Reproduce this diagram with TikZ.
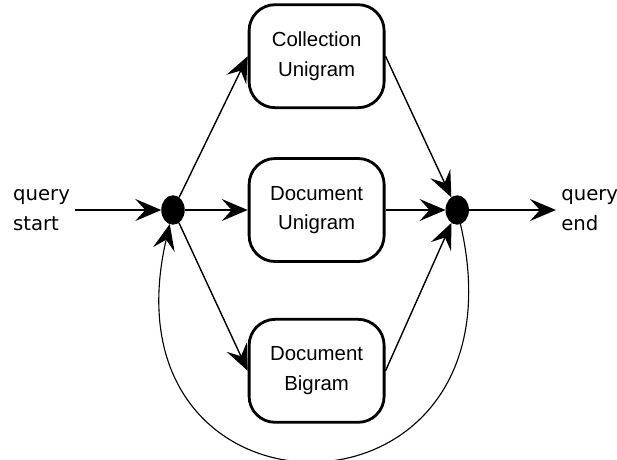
\documentclass[tikz,border=0pt]{standalone}
\usepackage{fontspec}
\setmainfont{Liberation Sans}
\newfontfamily\labelfont{DejaVu Sans}
\usetikzlibrary{arrows.meta,positioning,shapes.geometric}

\begin{document}
\begin{tikzpicture}[->,>={Stealth[length=6.5mm,width=5.5mm,inset=2.5mm]},line width=1pt,
  node distance=1.2cm and 1.575cm,
  model node/.style={rectangle,rounded corners=6.5mm,draw,line width=2pt,
  minimum width=3.375cm,minimum height=2.575cm,align=center,
  font=\fontsize{14.5}{21}\selectfont},
  join node/.style={ellipse,fill=black,draw,inner sep=0pt,
  minimum width=5.5mm,minimum height=7mm},
  query node/.style={align=left,font=\labelfont\fontsize{14}{21}\selectfont}]

  \useasboundingbox (0,0) rectangle (15.425,11.475);

  \node[join node] (split) at (4.325,6.225) {};
  \node[model node] (docuni) [right=of split] {Document\\Unigram};
  \node[model node] (colluni) [above=of docuni] {Collection\\Unigram};
  \node[model node] (docbi) [below=1.375cm of docuni] {Document\\Bigram};
  \node[join node] (merge) [right=1.5cm of docuni] {};

  \node[query node] (qstart) [left=2.15cm of split] {query\\start};
  \node[query node] (qend) [right=2.175cm of merge] {query\\end};

%into the split point
  \draw (qstart) -- (split);

%split point to the models
  \draw (split) -- (colluni.west);
  \draw (split) -- (docuni);
  \draw (split) -- (docbi.west);

%models to the merge point
  \draw (colluni.east) -- (merge);
  \draw (docuni) -- (merge);
  \draw (docbi.east) -- (merge);

%out of the merge point
  \draw (merge) -- (qend);

%back round to the split point
  \draw [line width=0.8pt] (merge) to[out=-77,in=-103,looseness=2.85] (split);

\end{tikzpicture}
\end{document}
